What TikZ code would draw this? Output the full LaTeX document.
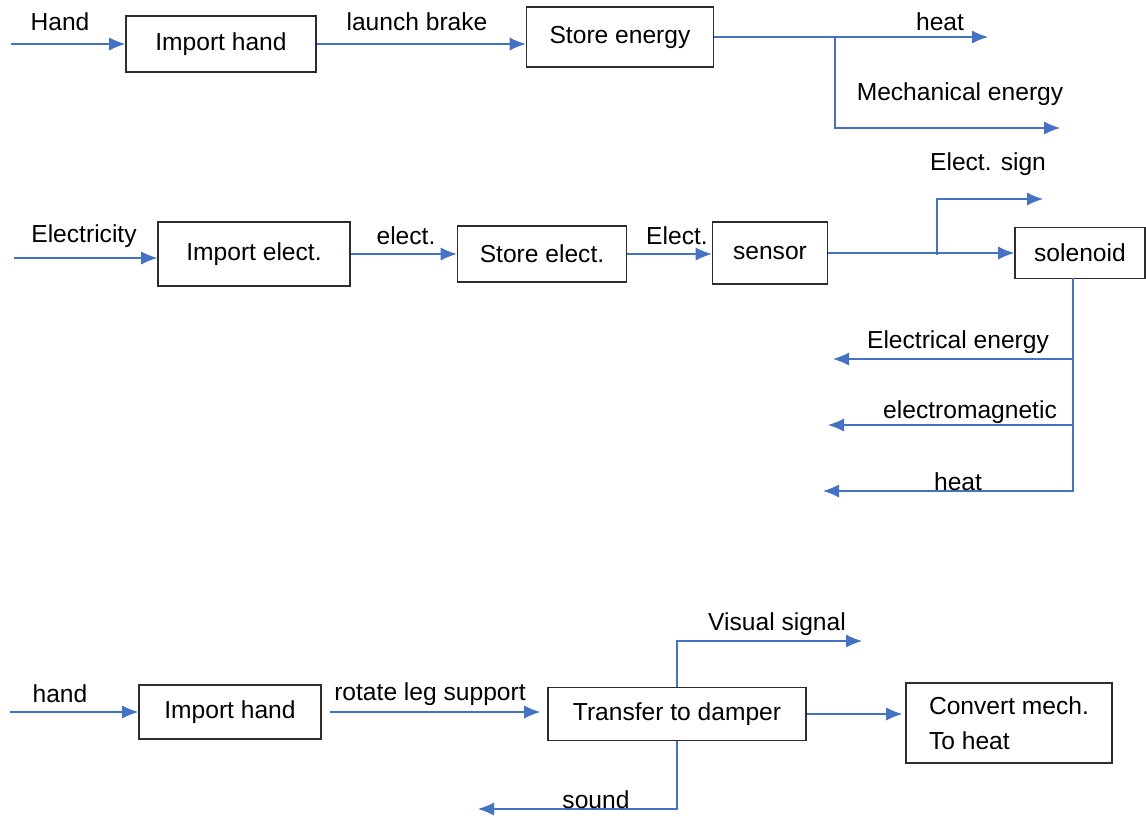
\documentclass[tikz,border=0pt]{standalone}
\usepackage{fontspec}
\setmainfont{Liberation Sans}
\usetikzlibrary{arrows.meta}
\tikzset{>={Latex[length=3.2mm,width=2.6mm]}}
\definecolor{flowblue}{RGB}{68,114,196}
\definecolor{boxgray}{RGB}{45,45,45}

\begin{document}
\begin{tikzpicture}[x=0.02cm, y=-0.02cm]
            \tikzset{block/.style={draw=boxgray, line width=0.9pt, inner sep=0pt, font={\fontsize{14}{20}\selectfont}}};
            \tikzset{flow/.style={->, flowblue, line width=0.6pt}}
            \tikzset{flow label/.style={inner sep=0pt, font={\fontsize{14}{17}\selectfont}}}
            \useasboundingbox (0, 0) rectangle (1146, 816);
            % Launch brake by hand
            \node[block, minimum width=3.8cm, minimum height=1.12cm] (importhand) at (221, 44) {Import hand};
            \node[block, minimum width=3.74cm, minimum height=1.2cm] (storeenergy) at (620, 37) {Store energy};
            \coordinate (handin) at (11, 44);
            \coordinate (splitheat) at (835, 37);
            \coordinate (heatout) at (988, 37);
            \coordinate (mechout) at (1060, 128);
            \draw[flow] (handin) -- (handin -| importhand.west);
            \draw[flow] (importhand.east) -- (importhand.east -| storeenergy.west);
            \draw[flow] (storeenergy.east) -- (heatout);
            \draw[flow] (splitheat) |- (mechout);
            \node[flow label] (handlabel) at (60, 22) {Hand};
            \node[flow label] (brakelabel) at (417, 22) {launch brake};
            \node[flow label] (heatlabel) at (940, 22) {heat};
            \node[flow label] (mechlabel) at (960, 94) {Mechanical energy};
            % Electric release
            \node[block, minimum width=3.84cm, minimum height=1.28cm] (importelect) at (254, 254) {Import elect.};
            \node[block, minimum width=3.38cm, minimum height=1.12cm] (storeelect) at (542, 254) {Store elect.};
            \node[block, minimum width=2.3cm, minimum height=1.24cm] (sensor) at (770, 253) {sensor};
            \node[block, minimum width=2.6cm, minimum height=1.02cm] (solenoid) at (1080, 253) {solenoid};
            \coordinate (electin) at (14, 258);
            \coordinate (splitsign) at (937, 255);
            \coordinate (signout) at (1043, 199);
            \coordinate (soltop) at (1073, 278);
            \coordinate (tapenergy) at (1073, 359);
            \coordinate (tapmagnet) at (1073, 425);
            \coordinate (energyout) at (833, 359);
            \coordinate (magnetout) at (828, 425);
            \coordinate (solheatout) at (823, 491);
            \draw[flow] (electin) -- (electin -| importelect.west);
            \draw[flow] (importelect) -- (storeelect);
            \draw[flow] (storeelect.east) -- (storeelect.east -| sensor.west);
            \draw[flow] (sensor.east) -- (sensor.east -| solenoid.west);
            \draw[flow] (splitsign) |- (signout);
            \draw[flow] (soltop) |- (solheatout);
            \draw[flow] (tapenergy) -- (energyout);
            \draw[flow] (tapmagnet) -- (magnetout);
            \node[flow label] (electricitylabel) at (84, 236) {Electricity};
            \node[flow label] (electlabel) at (406, 236) {elect.};
            \node[flow label] (electtwolabel) at (677, 236) {Elect.};
            \node[flow label] (signlabel) at (988, 164) {Elect. sign};
            \node[flow label] (energylabel) at (958, 342) {Electrical energy};
            \node[flow label] (magnetlabel) at (970, 412) {electromagnetic};
            \node[flow label] (solheatlabel) at (958, 482) {heat};
            % Rotating leg support
            \node[block, minimum width=3.64cm, minimum height=1.08cm] (importhandleg) at (230, 712) {Import hand};
            \node[block, minimum width=5.16cm, minimum height=1.06cm] (damper) at (677, 714) {Transfer to damper};
            \node[block, minimum width=4.12cm, minimum height=1.6cm, align=left] (convert) at (1009, 723) {Convert mech.\\To heat};
            \coordinate (handlegin) at (10, 712);
            \coordinate (visualout) at (862, 641);
            \coordinate (soundout) at (478, 809);
            \draw[flow] (handlegin) -- (handlegin -| importhandleg.west);
            \draw[flow, shorten <=0.16cm, shorten >=0.14cm] (importhandleg.east) -- (importhandleg.east -| damper.west);
            \draw[flow, shorten >=0.06cm] (damper.east) -- (damper.east -| convert.west);
            \draw[flow] (damper.north) |- (visualout);
            \draw[flow] (damper.south) |- (soundout);
            \node[flow label] (handleglabel) at (60, 694) {hand};
            \node[flow label] (rotatelabel) at (430, 694) {rotate leg support};
            \node[flow label] (visuallabel) at (777, 624) {Visual signal};
            \node[flow label] (soundlabel) at (596, 800) {sound};
\end{tikzpicture}
\end{document}
